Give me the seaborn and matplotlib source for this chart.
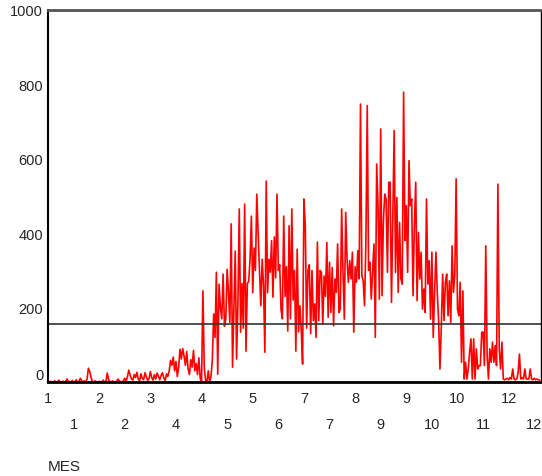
import numpy as np
import pandas as pd
import matplotlib
matplotlib.use("Agg")
import matplotlib.pyplot as plt
import seaborn as sns

# daily values in chunks
jan_mar = [0, 0, 2, 0, 0, 3, 0, 0, 5, 0, 0, 2, 0, 0, 8, 3, 0, 0, 4, 0,
           0, 6, 0, 2, 10, 4, 0, 3, 0, 8, 37, 28, 12, 0, 0, 3, 0, 0, 2, 0,
           0, 5, 0, 0, 24, 6, 0, 0, 3, 0, 0, 2, 8, 3, 0, 0, 4, 10, 2, 15,
           32, 18, 8, 5, 20, 12, 26, 8, 3, 22, 10, 6, 25, 14, 4, 9, 28, 12, 5, 20,
           8, 24, 15, 6, 18, 25, 10, 4, 22, 15]
april = [30, 58, 45, 67, 30, 55, 15, 40, 88, 62, 90, 70, 45, 82, 35, 20, 60, 40,
         85, 30, 50, 20, 65, 10, 0, 245]
may_jul = [40, 5, 0, 30, 0, 15, 60, 183, 120, 295, 21, 263, 200, 170, 290, 150, 170, 303, 240, 160,
           425, 40, 190, 352, 62, 215, 465, 134, 265, 145, 478, 83, 265, 270, 330, 446, 240, 360, 300, 505,
           400, 300, 205, 330, 260, 80, 540, 240, 330, 295, 380, 228, 390, 280, 505, 300, 315, 195, 170, 446,
           230, 310, 137, 420, 170, 465, 220, 300, 83, 357, 135, 205, 140, 48, 492, 420, 145, 300, 315, 130,
           300, 165, 210, 120, 376, 165, 300, 295, 155, 285, 230]
aug_oct = [375, 174, 322, 187, 308, 151, 277, 241, 371, 187, 196, 465, 295, 169, 456, 331, 268, 326, 277, 349,
           134, 310, 268, 353, 277, 747, 286, 272, 205, 375, 743, 300, 322, 223, 295, 371, 120, 586, 474, 223,
           680, 232, 434, 505, 492, 295, 537, 537, 214, 438, 676, 295, 496, 241, 429, 277, 263, 779, 380, 474,
           295, 595, 474, 492, 232, 420, 537, 219, 402, 277, 349, 196, 250, 187, 492, 263, 326, 169, 349, 120,
           241, 349, 241, 165, 35, 150, 290, 165, 268]
nov_dec = [290, 178, 272, 160, 366, 241, 286, 546, 196, 178, 268, 53, 245, 8, 53, 8, 35, 80, 116, 8,
           116, 8, 89, 35, 44, 44, 134, 134, 44, 366, 71, 8, 89, 53, 107, 53, 98, 44, 532, 89,
           35, 107, 8, 6, 8, 10, 6, 12, 8, 35, 8, 6, 8, 25, 75, 8, 12, 8, 35, 8,
           8, 8, 35, 8, 6, 10, 6, 8, 6, 5]

values = jan_mar + april + may_jul + aug_oct + nov_dec
reference_level = 156

# month shown under each axis tick (SPSS staggers them on two rows)
tick_months = [1, 1, 2, 2, 3, 4, 4, 5, 5, 6, 7, 7, 8, 9, 9, 10, 10, 11, 12, 12]
tick_step = 19

df = pd.DataFrame({"dia": np.arange(len(values)), "valor": values})

sns.set_style("white")
plt.rcParams["font.family"] = ["Liberation Sans", "DejaVu Sans"]

fig = plt.figure(figsize=(5.42, 4.77), dpi=100)
ax = fig.add_axes([48 / 542, 94 / 477, 493 / 542, 372 / 477])

sns.lineplot(data=df, x="dia", y="valor", ax=ax, color="#ff0000", linewidth=1.2)
ax.axhline(reference_level, color="#333333", linewidth=1.2)

ax.set_xlim(0, 366)
ax.set_ylim(0, 1000)

tick_pos = [k * tick_step for k in range(len(tick_months))]
ax.set_xticks(tick_pos[0::2], labels=[str(m) for m in tick_months[0::2]])
ax.set_xticks(tick_pos[1::2], labels=[str(m) for m in tick_months[1::2]], minor=True)
ax.set_yticks([0, 200, 400, 600, 800, 1000])

ax.tick_params(axis="x", which="major", direction="out", length=2.5, width=2,
               color="black", pad=4, labelsize=10.5)
ax.tick_params(axis="x", which="minor", direction="out", length=2.5, width=2,
               color="black", pad=22.5, labelsize=10.5)
ax.tick_params(axis="y", direction="out", length=2.5, width=2, color="black",
               pad=1, labelsize=10.5)
# SPSS lifts the "0" label off the x axis
ax.get_yticklabels()[0].set_va("bottom")

ax.set_xlabel("")
ax.set_ylabel("")

ax.spines["top"].set_color("#555555")
ax.spines["top"].set_linewidth(2)
ax.spines["left"].set_color("black")
ax.spines["left"].set_linewidth(1.5)
ax.spines["bottom"].set_color("black")
ax.spines["bottom"].set_linewidth(2)
ax.spines["right"].set_color("black")
ax.spines["right"].set_linewidth(1)

fig.text(48 / 542, 10 / 477, "MES", fontsize=11, ha="left", va="center")

fig.savefig("out.png", dpi=100)
